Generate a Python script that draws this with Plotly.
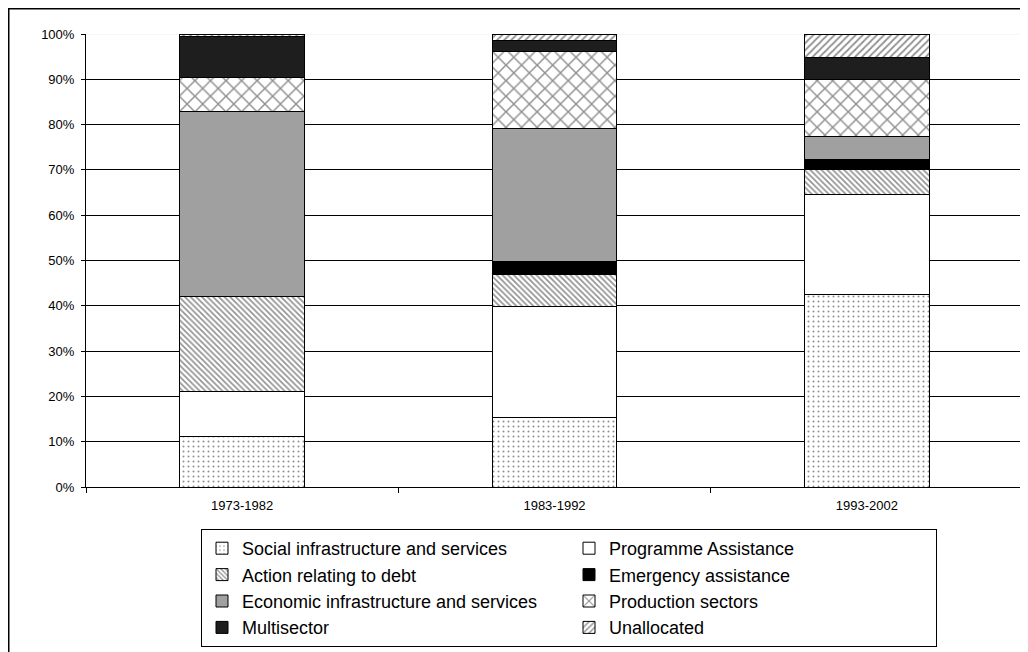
import plotly.graph_objects as go

periods = ['1973-1982', '1983-1992', '1993-2002']

# shares in % (bottom to top of each stack)
social = [11.2, 15.3, 42.4]
programme = [9.9, 24.6, 22.1]
debt = [21.0, 7.0, 5.5]
emergency = [0.0, 2.9, 2.2]
economic = [40.9, 29.3, 5.1]
production = [7.4, 17.1, 12.6]
multisector = [9.0, 2.4, 4.9]
unallocated = [0.6, 1.4, 5.2]

y_ticks = list(range(0, 101, 10))
y_labels = ['%d%%' % v for v in y_ticks]

# the page puts the figure 8px in from the window corner
W, H = 1020, 644
L, R, T, B = 78, 5, 26, 165
pw = W - L - R
ph = H - T - B

FONT = 'Liberation Sans, Arial, sans-serif'

series = [
    ('Social infrastructure and services', social,
     dict(color='white', pattern=dict(shape='.', fgcolor='#222', bgcolor='white', size=5, solidity=0.13))),
    ('Programme Assistance', programme, dict(color='white')),
    ('Action relating to debt', debt,
     dict(color='white', pattern=dict(shape='\\', fgcolor='#222', bgcolor='white', size=4, solidity=0.4))),
    ('Emergency assistance', emergency, dict(color='#000000')),
    ('Economic infrastructure and services', economic, dict(color='#a0a0a0')),
    ('Production sectors', production,
     dict(color='white', pattern=dict(shape='x', fgcolor='#222', bgcolor='white', size=11, solidity=0.25))),
    ('Multisector', multisector, dict(color='#1e1e1e')),
    ('Unallocated', unallocated,
     dict(color='white', pattern=dict(shape='/', fgcolor='#222', bgcolor='white', size=5, solidity=0.35))),
]

fig = go.Figure()
for name, vals, mk in series:
    mk = dict(mk)
    mk['line'] = dict(color='black', width=1)
    fig.add_trace(go.Bar(x=periods, y=vals, name=name, marker=mk))

fig.update_layout(
    width=W, height=H,
    margin=dict(l=L, r=R, t=T, b=B),
    barmode='stack',
    bargap=0.6,
    plot_bgcolor='white',
    paper_bgcolor='white',
    font=dict(family=FONT, size=13, color='black'),
    legend=dict(
        orientation='h',
        x=(193 - L) / pw, xanchor='left',
        y=-(521 - (H - B)) / ph, yanchor='top',
        entrywidth=322, entrywidthmode='pixels',
        bordercolor='black', borderwidth=1, bgcolor='white',
        font=dict(family=FONT, size=18, color='black'),
        traceorder='normal',
    ),
    shapes=[
        # faint top gridline
        dict(type='line', xref='paper', yref='y', x0=0, x1=1, y0=100, y1=100,
             line=dict(color='#eeeeee', width=1), layer='between'),
        # outer frame
        dict(type='rect', xref='paper', yref='paper',
             x0=(0 - L) / pw, x1=(W + 20 - L) / pw,
             y0=-(H + 20 - (H - B)) / ph, y1=(H - B - 0) / ph,
             line=dict(color='black', width=3)),
    ],
)

fig.update_xaxes(
    showline=True, linecolor='black', linewidth=1,
    ticks='outside', tickson='boundaries', ticklen=5, tickcolor='black',
    ticklabelstandoff=6,
    showgrid=False,
    tickfont=dict(size=13),
)
fig.update_yaxes(
    range=[0, 100], tickmode='array', tickvals=y_ticks, ticktext=y_labels,
    showline=True, linecolor='black', linewidth=1,
    ticks='outside', ticklen=4, tickcolor='black',
    ticklabelstandoff=4,
    showgrid=True, gridcolor='black', gridwidth=1,
    zeroline=False,
    tickfont=dict(size=13),
)

fig.write_html('out.html')
